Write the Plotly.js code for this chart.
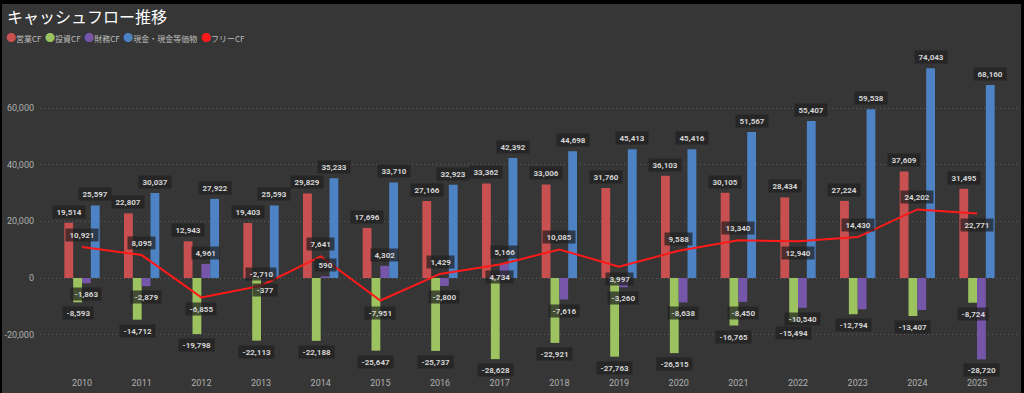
<!DOCTYPE html>
<html>
<head>
<meta charset="utf-8">
<script src="https://cdn.plot.ly/plotly-3.0.1.min.js"></script>
<style>
  html, body { margin: 0; padding: 0; background: #000; width: 1024px; height: 393px; overflow: hidden; }
  #chart { position: absolute; left: 2px; top: 4px; width: 1019px; height: 389px; }
</style>
</head>
<body>
<div id="chart"></div>
<script>
// ---- data ----
const years = ['2010','2011','2012','2013','2014','2015','2016','2017','2018','2019','2020','2021','2022','2023','2024','2025'];
const operatingCF = [19514, 22807, 12943, 19403, 29829, 17696, 27166, 33362, 33006, 31760, 36103, 30105, 28434, 27224, 37609, 31495];
const investingCF = [-8593, -14712, -19798, -22113, -22188, -25647, -25737, -28628, -22921, -27763, -26515, -16765, -15494, -12794, -13407, -8724];
const financingCF = [-1863, -2879, 4961, -377, 590, 4302, -2800, 5166, -7616, -3260, -8638, -8450, -10540, -11050, -11300, -28720];
const cashEq = [25597, 30037, 27922, 25593, 35233, 33710, 32923, 42392, 44698, 45413, 45416, 51567, 55407, 59538, 74043, 68160];
const freeCF = [10921, 8095, -6855, -2710, 7641, -7951, 1429, 4734, 10085, 3997, 9588, 13340, 12940, 14430, 24202, 22771];
const seriesNames = ['営業CF', '投資CF', '財務CF', '現金・現金等価物', 'フリーCF'];
const yTickVals = [-20000, 0, 20000, 40000, 60000];
const yTickText = ['-20,000', '0', '20,000', '40,000', '60,000'];

// ---- styling ----
const colors = ['#c85050', '#9cc35f', '#7556a8', '#4d82c4', '#ff1a1a'];
const barW = 0.148;
const hiddenFinLabels = [13, 14];
const freeBelow = [2, 5, 7, 9, 12, 15];
const labelFont = { family: 'Roboto, sans-serif', size: 8, color: '#d4d4d4', weight: 'bold' };
const boxColor = 'rgba(32,32,32,0.72)';

const xIdx = years.map((_, i) => i);
const fmt = v => (v < 0 ? '-' : '') + Math.abs(v).toLocaleString('en-US');
const padTxt = s => '\u00a0' + s + '\u00a0';

const barSeries = [
  { vals: operatingCF, off: -2 },
  { vals: investingCF, off: -1 },
  { vals: financingCF, off: 0 },
  { vals: cashEq, off: 1 }
];

const traces = barSeries.map((s, k) => ({
  type: 'bar',
  x: xIdx,
  y: s.vals,
  width: barW,
  offset: s.off * barW,
  marker: { color: colors[k] },
  name: seriesNames[k],
  showlegend: false,
  hoverinfo: 'skip'
}));

traces.push({
  type: 'scatter',
  mode: 'lines',
  x: xIdx,
  y: freeCF,
  line: { color: colors[4], width: 2 },
  name: seriesNames[4],
  showlegend: false,
  hoverinfo: 'skip'
});

const annotations = [];
barSeries.forEach((s, k) => {
  s.vals.forEach((v, i) => {
    if (k === 2 && hiddenFinLabels.includes(i)) return;
    annotations.push({
      x: i + (s.off + 0.5) * barW, y: v, xref: 'x', yref: 'y',
      text: padTxt(fmt(v)), showarrow: false,
      xanchor: 'center', yanchor: v >= 0 ? 'bottom' : 'top',
      yshift: v >= 0 ? 4 : -4,
      font: labelFont, bgcolor: boxColor, borderpad: 1.5
    });
  });
});
freeCF.forEach((v, i) => {
  const below = freeBelow.includes(i);
  annotations.push({
    x: i, y: v, xref: 'x', yref: 'y',
    text: padTxt(fmt(v)), showarrow: false,
    xanchor: 'center', yanchor: below ? 'top' : 'bottom',
    yshift: below ? -5 : 5,
    font: labelFont, bgcolor: boxColor, borderpad: 1.5
  });
});

// legend as a single text line with coloured circle glyphs
const legendText = seriesNames.map((n, k) =>
  `<span style="color:${colors[k]};font-size:10px">●</span>${n}`).join('\u00a0\u00a0');
annotations.push({
  x: -0.037, y: 1.047, xref: 'paper', yref: 'paper',
  xanchor: 'left', yanchor: 'middle', showarrow: false,
  text: legendText,
  font: { family: '"Noto Sans CJK JP", sans-serif', size: 8, color: '#bdbdbd' }
});

const layout = {
  width: 1019, height: 389,
  paper_bgcolor: '#363636', plot_bgcolor: '#363636',
  margin: { l: 38, r: 4, t: 48, b: 22 },
  title: {
    text: 'キャッシュフロー推移',
    xref: 'container', yref: 'container',
    x: 5 / 1019, xanchor: 'left', y: 1 - 13 / 389, yanchor: 'middle',
    font: { family: '"Noto Sans CJK JP", sans-serif', size: 16, color: '#ffffff' }
  },
  barmode: 'overlay',
  showlegend: false,
  xaxis: {
    type: 'linear',
    range: [-0.704, 15.67],
    tickvals: xIdx, ticktext: years,
    showgrid: false, zeroline: false, showline: false, ticks: '',
    ticklabelstandoff: 5,
    tickfont: { family: 'Roboto, sans-serif', size: 9, color: '#b0b0b0' }
  },
  yaxis: {
    range: [-32824, 79765],
    tickvals: yTickVals, ticktext: yTickText,
    showgrid: true, gridcolor: '#5a5a5a', griddash: '1px,3px', gridwidth: 1,
    zeroline: false, showline: false, ticks: '',
    ticklabelstandoff: 5,
    tickfont: { family: 'Roboto, sans-serif', size: 9, color: '#b0b0b0' }
  },
  annotations: annotations
};

Plotly.newPlot('chart', traces, layout, { displayModeBar: false, staticPlot: true });
</script>
</body>
</html>
